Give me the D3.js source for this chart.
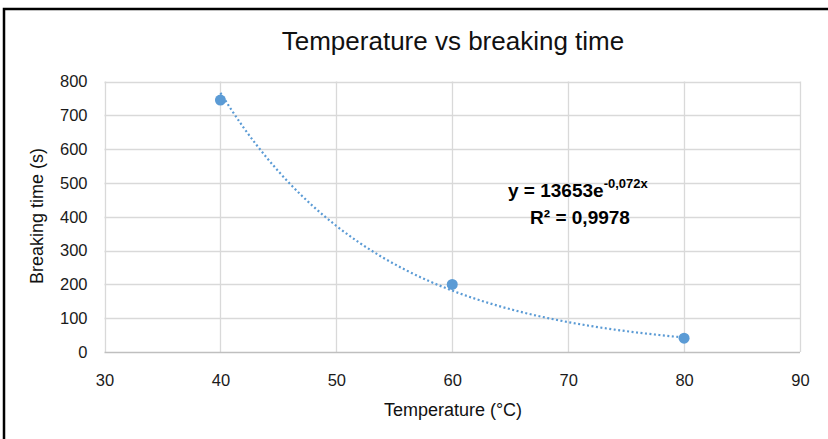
<!DOCTYPE html>
<html><head><meta charset="utf-8">
<script src="https://cdn.jsdelivr.net/npm/d3@7"></script>
<style>body{margin:0;background:#fff;} svg{display:block;font-family:"Liberation Sans",Arial,sans-serif;}</style>
</head><body>
<svg id="c" width="828" height="439"></svg>
<script>
const temperatures = [40, 60, 80];
const breakingTimes = [745, 200, 41];
const xTicks = [30, 40, 50, 60, 70, 80, 90];
const yTicks = [0, 100, 200, 300, 400, 500, 600, 700, 800];
const trendA = 13653, trendB = -0.072;
const trendXs = [40, 42, 44, 46, 48, 50, 52, 54, 56, 58, 60, 62, 64, 66, 68, 70, 72, 74, 76, 78, 80];

const svg = d3.select("#c");
const x = d3.scaleLinear().domain([30, 90]).range([104.5, 800]);
const y = d3.scaleLinear().domain([0, 800]).range([352, 81.5]);

// border
svg.append("path").attr("d","M4,439 L4,9 L828,9").attr("fill","none").attr("stroke","#000").attr("stroke-width",2.5);

// grid
const g = svg.append("g");
g.selectAll(".hg").data(yTicks.filter(d=>d>0)).join("line")
  .attr("x1", x(30)).attr("x2", x(90)).attr("y1", d=>Math.round(y(d))+0.5).attr("y2", d=>Math.round(y(d))+0.5)
  .attr("stroke","#d9d9d9").attr("stroke-width",1.3);
g.selectAll(".vg").data(xTicks).join("line")
  .attr("y1", y(0)).attr("y2", y(800)).attr("x1", d=>Math.round(x(d))+0.5).attr("x2", d=>Math.round(x(d))+0.5)
  .attr("stroke","#d9d9d9").attr("stroke-width",1.3);
g.append("line").attr("x1",x(30)).attr("x2",x(90)).attr("y1",y(0)+0.5).attr("y2",y(0)+0.5).attr("stroke","#bfbfbf").attr("stroke-width",1.3);

const xAxis = svg.append("g").attr("transform",`translate(0,${y(0)})`)
  .call(d3.axisBottom(x).tickValues(xTicks).tickSize(0).tickPadding(22));
const yAxis = svg.append("g").attr("transform",`translate(${x(30)},0)`)
  .call(d3.axisLeft(y).tickValues(yTicks).tickSize(0).tickPadding(17));
[xAxis, yAxis].forEach(a=>{
  a.select(".domain").remove();
  a.selectAll("text").attr("font-family","Liberation Sans, Arial, sans-serif").attr("font-size",16.5).attr("fill","#1a1a1a");
});

const line = d3.line().x(d=>x(d)).y(d=>y(trendA*Math.exp(trendB*d))).curve(d3.curveMonotoneX);
svg.append("path").datum(trendXs).attr("d", line).attr("fill","none")
  .attr("stroke","#5b9bd5").attr("stroke-width",2.2).attr("stroke-dasharray","2 2.5");

svg.selectAll(".pt").data(temperatures).join("circle")
  .attr("cx",(d)=>x(d)).attr("cy",(d,i)=>y(breakingTimes[i])).attr("r",5.5).attr("fill","#5b9bd5");

svg.append("text").attr("x",453).attr("y",50).attr("text-anchor","middle")
  .attr("font-size",26).attr("fill","#111").text("Temperature vs breaking time");
svg.append("text").attr("x",453).attr("y",416).attr("text-anchor","middle")
  .attr("font-size",18).attr("fill","#111").text("Temperature (°C)");
svg.append("text").attr("transform","translate(43,216) rotate(-90)").attr("text-anchor","middle")
  .attr("font-size",18).attr("fill","#111").text("Breaking time (s)");

const eq = svg.append("text").attr("x",508).attr("y",197).attr("font-size",19).attr("font-weight","bold").attr("fill","#000");
eq.append("tspan").text("y = 13653e");
eq.append("tspan").attr("dy",-9).attr("font-size",13).text("-0,072x");
svg.append("text").attr("x",580).attr("y",224).attr("text-anchor","middle").attr("font-size",19).attr("font-weight","bold").attr("fill","#000").text("R² = 0,9978");
</script>
</body></html>
